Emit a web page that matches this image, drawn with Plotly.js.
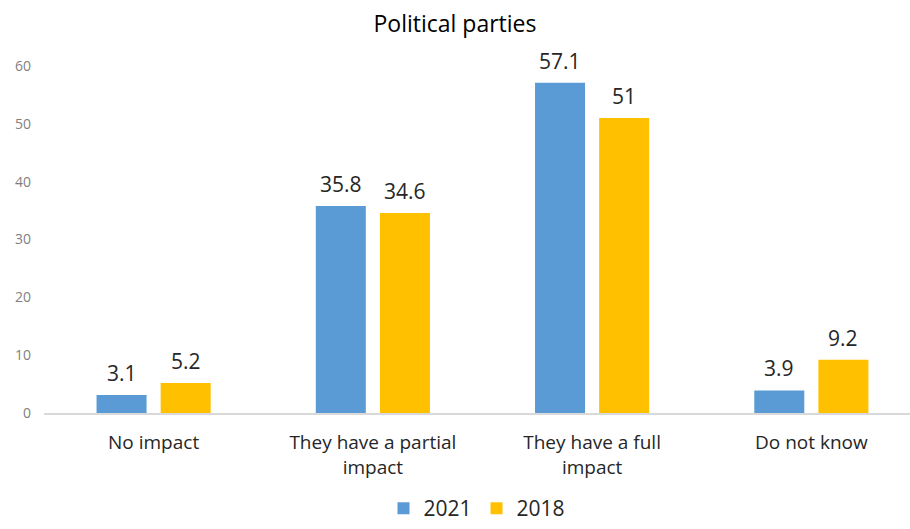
<!DOCTYPE html>
<html>
<head>
<meta charset="utf-8">
<script src="https://cdn.plot.ly/plotly-3.0.1.min.js"></script>
<style>html,body{margin:0;padding:0;background:#fff;overflow:hidden}#chart{width:910px;height:529px}</style>
</head>
<body>
<div id="chart"></div>
<script>
const categories = ["No impact", "They have a partial<br>impact", "They have a full<br>impact", "Do not know"];
const values2021 = [3.1, 35.8, 57.1, 3.9];
const values2018 = [5.2, 34.6, 51, 9.2];
const labels2021 = ["3.1", "35.8", "57.1", "3.9"];
const labels2018 = ["5.2", "34.6", "51", "9.2"];
const yTicks = [0, 10, 20, 30, 40, 50, 60];

const fontFam = "'Open Sans', sans-serif";
const traces = [
  {type: 'bar', name: '2021', x: categories, y: values2021,
   marker: {color: '#5B9BD5'}, hoverinfo: 'none'},
  {type: 'bar', name: '2018', x: categories, y: values2018,
   marker: {color: '#FFC000'}, hoverinfo: 'none'}
];
const annotations = [];
function addLabels(vals, labs, shift) {
  vals.forEach((v, i) => annotations.push({
    x: categories[i], y: v, xref: 'x', yref: 'y', text: labs[i], showarrow: false,
    xshift: shift, yshift: 6, yanchor: 'bottom', xanchor: 'center',
    font: {size: 21, color: '#262626', family: fontFam}
  }));
}
addLabels(values2021, labels2021, -32);
addLabels(values2018, labels2018, 32);

const layout = {
  width: 910, height: 529,
  margin: {l: 44, r: 0, t: 66, b: 116},
  paper_bgcolor: '#fff', plot_bgcolor: '#fff',
  font: {family: fontFam, color: '#262626'},
  title: {text: 'Political parties', font: {size: 23, color: '#000', family: fontFam}, x: 0.5, xanchor: 'center', y: 0.955, yanchor: 'middle'},
  bargap: 0.415, bargroupgap: 0.22,
  annotations: annotations,
  xaxis: {type: 'category', range: [-0.5, 3.45], showline: true, linecolor: '#D9D9D9', linewidth: 1.5,
          ticks: '', showgrid: false, automargin: false, ticklabelstandoff: 12,
          tickfont: {size: 19, color: '#262626', family: fontFam}},
  yaxis: {range: [0, 60], tickvals: yTicks, showgrid: false, zeroline: false, showline: false, automargin: false,
          ticks: '', tickfont: {size: 14, color: '#7F7F7F', family: fontFam}, ticklabelstandoff: 12},
  showlegend: true,
  legend: {orientation: 'h', x: 0.5, xanchor: 'center', xref: 'paper', yref: 'container', y: 0, yanchor: 'bottom',
           font: {size: 21, color: '#262626', family: fontFam}}
};
Plotly.newPlot('chart', traces, layout, {staticPlot: true});
</script>
</body>
</html>
